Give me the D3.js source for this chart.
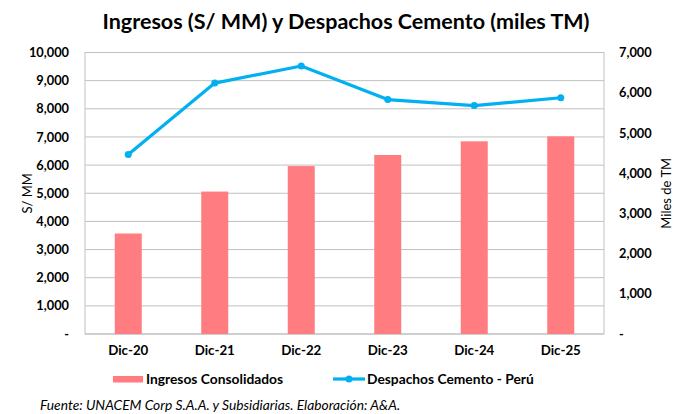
<!DOCTYPE html>
<html lang="es">
<head>
  <meta charset="UTF-8">
  <title>Ingresos y Despachos Cemento</title>
  <script src="https://cdnjs.cloudflare.com/ajax/libs/d3/7.8.5/d3.min.js"></script>
  <style>
    body { margin: 0; background: #fff; }
    svg { display: block; font-family: Lato, "Open Sans", sans-serif; }
  </style>
</head>
<body>
  <svg id="chart" width="678" height="414"></svg>
  <script>
    // datos
    const periodos = ["Dic-20", "Dic-21", "Dic-22", "Dic-23", "Dic-24", "Dic-25"];
    const ingresos = [3570, 5060, 5965, 6360, 6845, 7020];
    const despachos = [4465, 6240, 6665, 5830, 5680, 5875];
    const ticksIzq = [0, 1000, 2000, 3000, 4000, 5000, 6000, 7000, 8000, 9000, 10000];
    const ticksDer = [0, 1000, 2000, 3000, 4000, 5000, 6000, 7000];

    const svg = d3.select("#chart");
    const m = { left: 85, right: 604, top: 52.5, bottom: 334 };
    const fmt = d => d === 0 ? "-" : d3.format(",")(d);

    const x = d3.scaleBand().domain(periodos).range([m.left, m.right]);
    const yL = d3.scaleLinear().domain([0, 10000]).range([m.bottom, m.top]);
    const yR = d3.scaleLinear().domain([0, 7000]).range([m.bottom, m.top]);

    svg.append("text")
      .attr("x", 346).attr("y", 29)
      .attr("text-anchor", "middle")
      .attr("font-size", 21.5).attr("font-weight", "bold")
      .attr("fill", "#000")
      .text("Ingresos (S/ MM) y Despachos Cemento (miles TM)");

    // rejilla
    svg.append("g").selectAll("line").data(ticksIzq).join("line")
      .attr("x1", m.left).attr("x2", m.right)
      .attr("y1", d => yL(d)).attr("y2", d => yL(d))
      .attr("stroke", "#c0c0c0").attr("stroke-width", 1);
    svg.append("rect")
      .attr("x", m.left).attr("y", m.top)
      .attr("width", m.right - m.left).attr("height", m.bottom - m.top)
      .attr("fill", "none").attr("stroke", "#c0c0c0");

    // ejes
    const axL = svg.append("g").attr("transform", `translate(${m.left},0)`)
      .call(d3.axisLeft(yL).tickValues(ticksIzq).tickFormat(fmt).tickSize(0).tickPadding(16));
    const axR = svg.append("g").attr("transform", `translate(${m.right},0)`)
      .call(d3.axisRight(yR).tickValues(ticksDer).tickFormat(fmt).tickSize(0).tickPadding(15));
    const axX = svg.append("g").attr("transform", `translate(0,${m.bottom})`)
      .call(d3.axisBottom(x).tickSize(0).tickPadding(12));
    [axL, axR, axX].forEach(g => {
      g.select(".domain").remove();
      g.selectAll("text").attr("font-family", "Lato, sans-serif")
        .attr("font-size", 12.8).attr("font-weight", "bold").attr("fill", "#000");
    });
    axX.selectAll("text").attr("font-size", 13.3);

    svg.append("text")
      .attr("transform", `translate(32,${(m.top + m.bottom) / 2}) rotate(-90)`)
      .attr("text-anchor", "middle").attr("font-size", 13).attr("fill", "#000")
      .text("S/ MM");
    svg.append("text")
      .attr("transform", `translate(671,${(m.top + m.bottom) / 2}) rotate(-90)`)
      .attr("text-anchor", "middle").attr("font-size", 13).attr("fill", "#000")
      .text("Miles de TM");

    // barras
    const bw = 27;
    svg.append("g").selectAll("rect").data(ingresos).join("rect")
      .attr("x", (d, i) => x(periodos[i]) + x.bandwidth() / 2 - bw / 2)
      .attr("y", d => yL(d))
      .attr("width", bw)
      .attr("height", d => m.bottom - yL(d))
      .attr("fill", "#ff7c80");

    // linea
    const line = d3.line()
      .x((d, i) => x(periodos[i]) + x.bandwidth() / 2)
      .y(d => yR(d));
    svg.append("path").datum(despachos)
      .attr("d", line)
      .attr("fill", "none").attr("stroke", "#00b0f0").attr("stroke-width", 3.2)
      .attr("stroke-linejoin", "round");
    svg.append("g").selectAll("circle").data(despachos).join("circle")
      .attr("cx", (d, i) => x(periodos[i]) + x.bandwidth() / 2)
      .attr("cy", d => yR(d))
      .attr("r", 3.5).attr("fill", "#00b0f0");

    // leyenda
    const lg = svg.append("g");
    lg.append("rect").attr("x", 113).attr("y", 376).attr("width", 30).attr("height", 6.5).attr("fill", "#ff7c80");
    lg.append("text").attr("x", 146).attr("y", 384)
      .attr("font-size", 13.8).attr("font-weight", "bold").attr("fill", "#000")
      .text("Ingresos Consolidados");
    lg.append("line").attr("x1", 333).attr("x2", 365).attr("y1", 379).attr("y2", 379)
      .attr("stroke", "#00b0f0").attr("stroke-width", 3.2);
    lg.append("circle").attr("cx", 349).attr("cy", 379).attr("r", 3.5).attr("fill", "#00b0f0");
    lg.append("text").attr("x", 367).attr("y", 384)
      .attr("font-size", 13.8).attr("font-weight", "bold").attr("fill", "#000")
      .text("Despachos Cemento - Perú");

    svg.append("text")
      .attr("x", 40).attr("y", 410)
      .attr("font-size", 13.8).attr("font-style", "italic").attr("fill", "#000")
      .text("Fuente: UNACEM Corp S.A.A. y Subsidiarias. Elaboración: A&A.");
  </script>
</body>
</html>
